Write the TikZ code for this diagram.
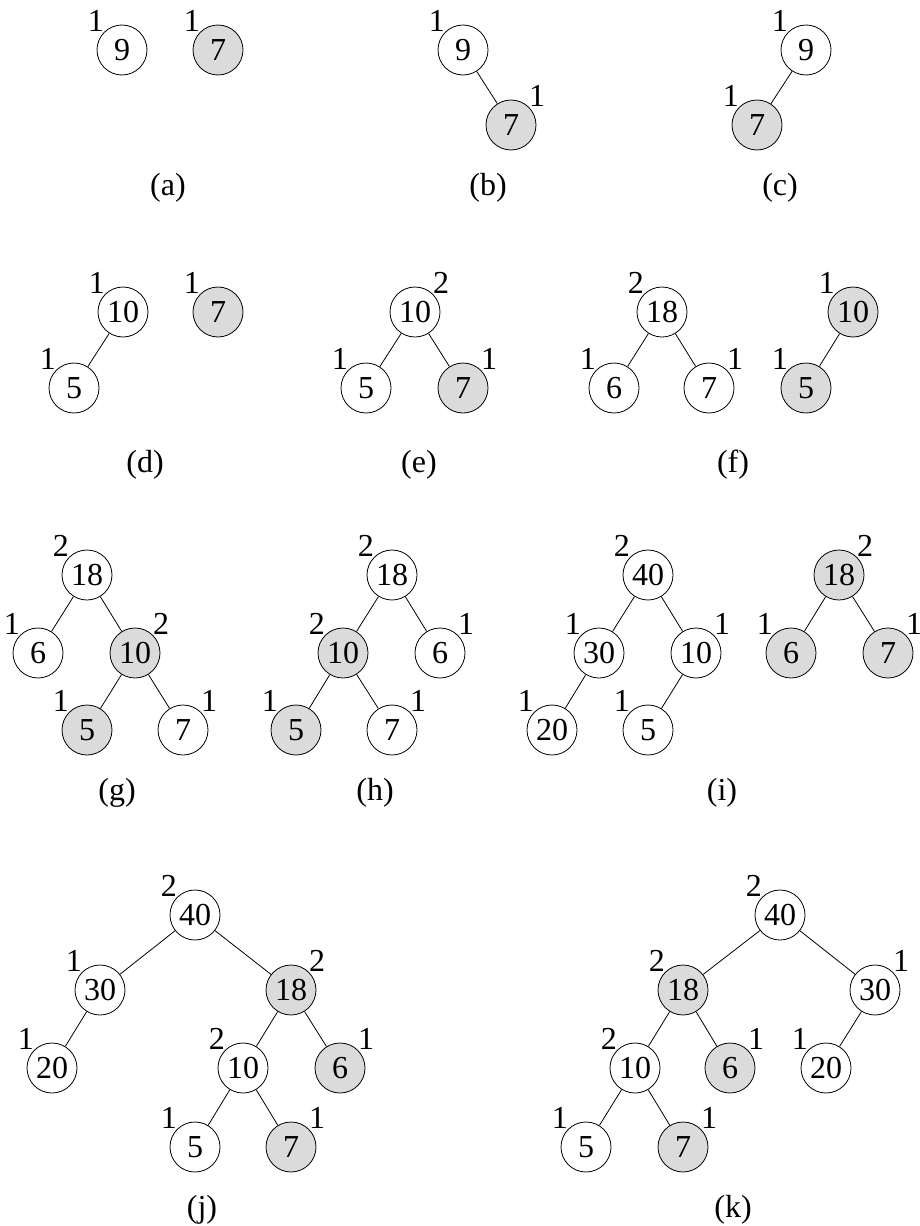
\documentclass[tikz,border=0pt]{standalone}
\usepackage{fontspec}
\setmainfont{Liberation Serif}

\begin{document}
\begin{tikzpicture}[x=1pt, y=-1pt, font=\fontsize{32}{38}\selectfont,
  nd/.style={circle, draw, line width=0.8pt, minimum size=50pt, inner sep=0pt},
  hl/.style={nd, fill=black!14},
  every label/.style={inner sep=0pt, font=\fontsize{32}{38}\selectfont},
  tr/.style={line width=0.8pt}]
  \useasboundingbox (0,0) rectangle (919,1226);

  % (a)
  \node[nd, label=135:1] (a9) at (122,50) {9};
  \node[hl, label=135:1] (a7) at (218,50) {7};
  \node (capa) at (168,188) {(a)};

  % (b)
  \node[nd, label=135:1] (b9) at (463,50) {9};
  \node[hl, label=45:1] (b7) at (511,125) {7};
  \draw[tr] (b9) -- (b7);
  \node (capb) at (488,188) {(b)};

  % (c)
  \node[nd, label=135:1] (c9) at (806,50) {9};
  \node[hl, label=135:1] (c7) at (757,125) {7};
  \draw[tr] (c9) -- (c7);
  \node (capc) at (780,188) {(c)};

  % (d)
  \node[nd, label=135:1] (d10) at (123,312) {10};
  \node[nd, label=135:1] (d5) at (74,388) {5};
  \node[hl, label=135:1] (d7) at (218,312) {7};
  \draw[tr] (d10) -- (d5);
  \node (capd) at (145,465) {(d)};

  % (e)
  \node[nd, label=45:2] (e10) at (415,312) {10};
  \node[nd, label=135:1] (e5) at (366,388) {5};
  \node[hl, label=45:1] (e7) at (463,388) {7};
  \draw[tr] (e10) -- (e5);
  \draw[tr] (e10) -- (e7);
  \node (cape) at (419,465) {(e)};

  % (f)
  \node[nd, label=135:2] (f18) at (662,312) {18};
  \node[nd, label=135:1] (f6) at (614,388) {6};
  \node[nd, label=45:1] (f7) at (709,388) {7};
  \node[hl, label=135:1] (f10) at (853,312) {10};
  \node[hl, label=135:1] (f5) at (806,388) {5};
  \draw[tr] (f18) -- (f6);
  \draw[tr] (f18) -- (f7);
  \draw[tr] (f10) -- (f5);
  \node (capf) at (733,465) {(f)};

  % (g)
  \node[nd, label=135:2] (g18) at (87,575) {18};
  \node[nd, label=135:1] (g6) at (38,653) {6};
  \node[hl, label=45:2] (g10) at (135,653) {10};
  \node[hl, label=135:1] (g5) at (87,730) {5};
  \node[nd, label=45:1] (g7) at (183,730) {7};
  \draw[tr] (g18) -- (g6);
  \draw[tr] (g18) -- (g10);
  \draw[tr] (g10) -- (g5);
  \draw[tr] (g10) -- (g7);
  \node (capg) at (117,793) {(g)};

  % (h)
  \node[nd, label=135:2] (h18) at (392,575) {18};
  \node[hl, label=135:2] (h10) at (343,653) {10};
  \node[nd, label=45:1] (h6) at (440,653) {6};
  \node[hl, label=135:1] (h5) at (296,730) {5};
  \node[nd, label=45:1] (h7) at (392,730) {7};
  \draw[tr] (h18) -- (h10);
  \draw[tr] (h18) -- (h6);
  \draw[tr] (h10) -- (h5);
  \draw[tr] (h10) -- (h7);
  \node (caph) at (375,793) {(h)};

  % (i)
  \node[nd, label=135:2] (i40) at (648,575) {40};
  \node[nd, label=135:1] (i30) at (599,653) {30};
  \node[nd, label=45:1] (i10) at (696,653) {10};
  \node[nd, label=135:1] (i20) at (552,730) {20};
  \node[nd, label=135:1] (i5) at (648,730) {5};
  \node[hl, label=45:2] (i18) at (839,575) {18};
  \node[hl, label=135:1] (i6) at (791,653) {6};
  \node[hl, label=45:1] (i7) at (888,653) {7};
  \draw[tr] (i40) -- (i30);
  \draw[tr] (i40) -- (i10);
  \draw[tr] (i30) -- (i20);
  \draw[tr] (i10) -- (i5);
  \draw[tr] (i18) -- (i6);
  \draw[tr] (i18) -- (i7);
  \node (capi) at (722,793) {(i)};

  % (j)
  \node[nd, label=135:2] (j40) at (195,915) {40};
  \node[nd, label=135:1] (j30) at (100,990) {30};
  \node[hl, label=45:2] (j18) at (291,990) {18};
  \node[nd, label=135:1] (j20) at (52,1068) {20};
  \node[nd, label=135:2] (j10) at (243,1068) {10};
  \node[hl, label=45:1] (j6) at (340,1068) {6};
  \node[nd, label=135:1] (j5) at (195,1147) {5};
  \node[hl, label=45:1] (j7) at (291,1147) {7};
  \draw[tr] (j40) -- (j30);
  \draw[tr] (j40) -- (j18);
  \draw[tr] (j30) -- (j20);
  \draw[tr] (j18) -- (j10);
  \draw[tr] (j18) -- (j6);
  \draw[tr] (j10) -- (j5);
  \draw[tr] (j10) -- (j7);
  \node (capj) at (202,1210) {(j)};

  % (k)
  \node[nd, label=135:2] (k40) at (780,915) {40};
  \node[hl, label=135:2] (k18) at (683,990) {18};
  \node[nd, label=45:1] (k30) at (875,990) {30};
  \node[nd, label=135:2] (k10) at (635,1068) {10};
  \node[hl, label=45:1] (k6) at (730,1068) {6};
  \node[nd, label=135:1] (k20) at (826,1068) {20};
  \node[nd, label=135:1] (k5) at (586,1147) {5};
  \node[hl, label=45:1] (k7) at (683,1147) {7};
  \draw[tr] (k40) -- (k18);
  \draw[tr] (k40) -- (k30);
  \draw[tr] (k18) -- (k10);
  \draw[tr] (k18) -- (k6);
  \draw[tr] (k30) -- (k20);
  \draw[tr] (k10) -- (k5);
  \draw[tr] (k10) -- (k7);
  \node (capk) at (733,1210) {(k)};
\end{tikzpicture}
\end{document}
